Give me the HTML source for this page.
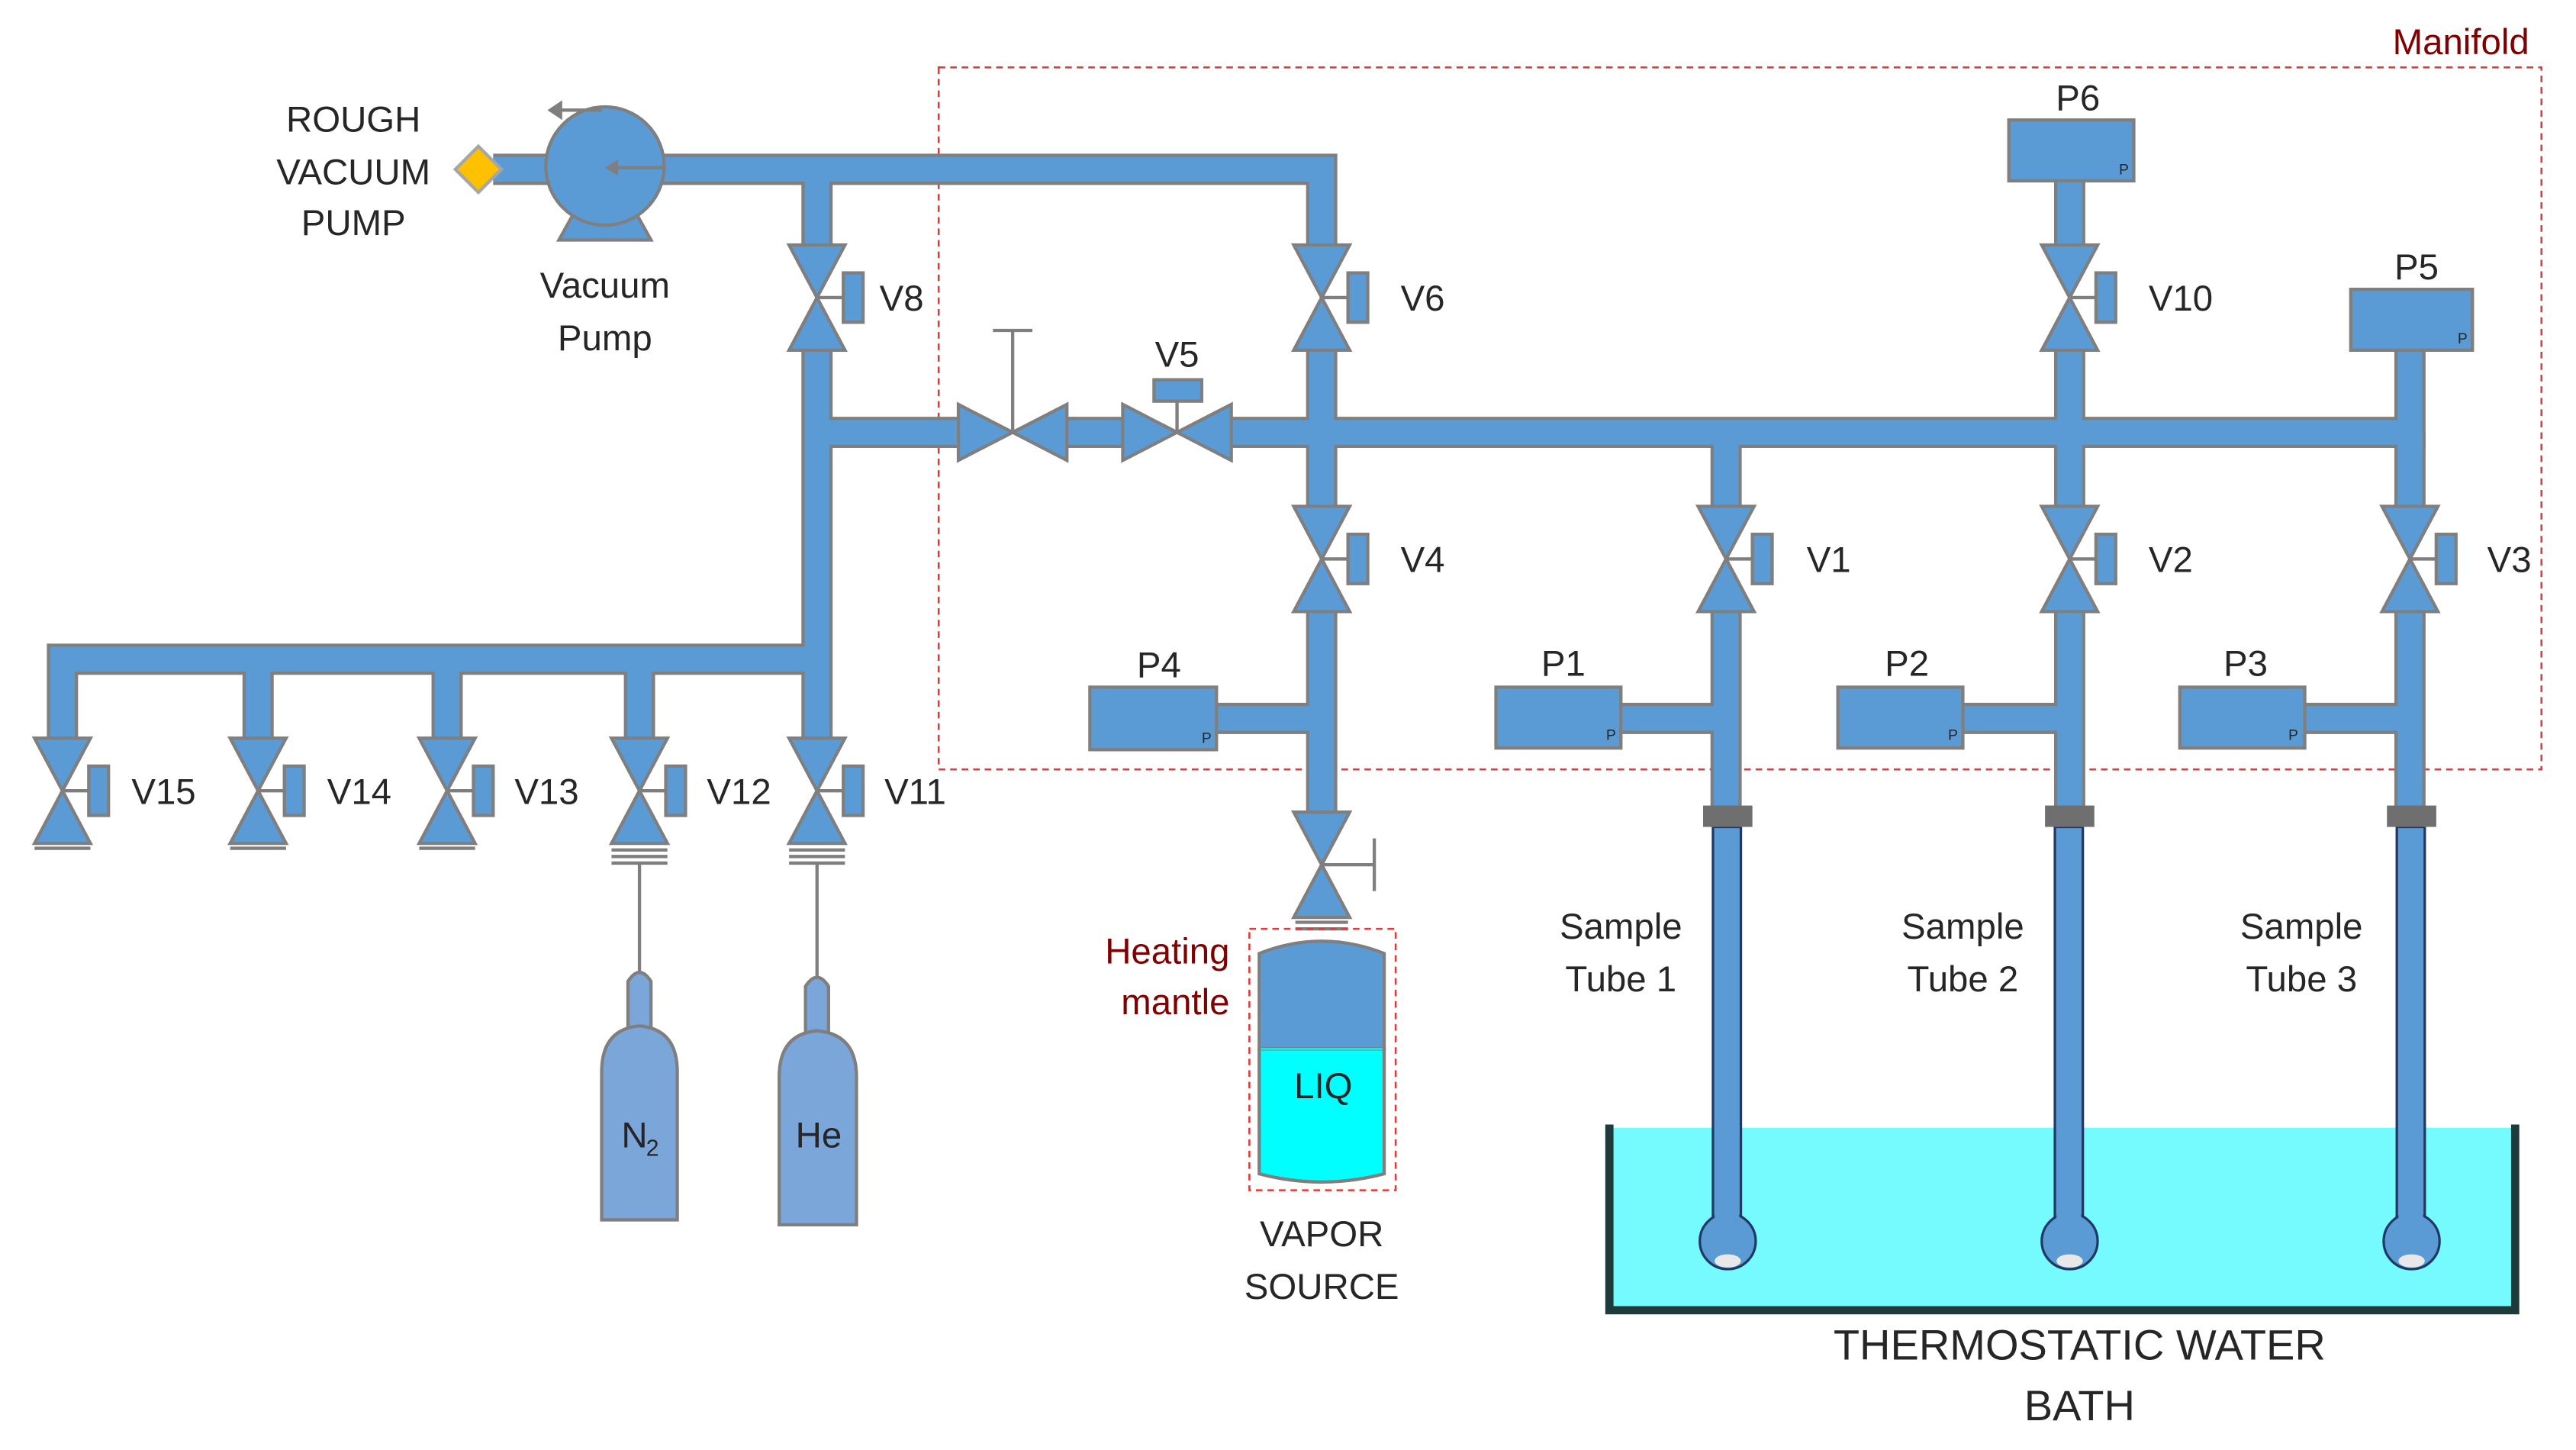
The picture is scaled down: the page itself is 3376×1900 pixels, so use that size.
<!DOCTYPE html>
<html><head><meta charset="utf-8"><style>
html,body{margin:0;padding:0;background:#fff;}
svg{display:block;}
text{font-family:"Liberation Sans",sans-serif;fill:#262626;}
</style></head><body>
<svg width="3376" height="1900" viewBox="0 0 1567 882" preserveAspectRatio="none" xmlns="http://www.w3.org/2000/svg">
<defs>
<g id="vv"><polygon points="-17,-32 17,-32 0,0" fill="#5b9bd5" stroke="#7f7f7f" stroke-width="2"/><polygon points="-17,32 17,32 0,0" fill="#5b9bd5" stroke="#7f7f7f" stroke-width="2"/></g>
<g id="act"><line x1="0" y1="0" x2="16" y2="0" stroke="#7f7f7f" stroke-width="2"/><rect x="16" y="-15" width="12" height="30" fill="#5b9bd5" stroke="#7f7f7f" stroke-width="2"/></g>
<g id="hv"><polygon points="-33,-17 -33,17 0,0" fill="#5b9bd5" stroke="#7f7f7f" stroke-width="2"/><polygon points="33,-17 33,17 0,0" fill="#5b9bd5" stroke="#7f7f7f" stroke-width="2"/></g>
</defs>

<rect x="571" y="41" width="975" height="427" fill="none" stroke="#e03a3a" stroke-width="1.2" stroke-dasharray="4,3"/>
<text x="1497" y="33" font-size="22" text-anchor="middle" style="fill:#7f0000">Manifold</text>

<rect x="977" y="686" width="553" height="111" fill="#75fbfd"/>
<path d="M979 684 V797 H1530 V684" fill="none" stroke="#1f3a3a" stroke-width="5"/>

<g fill="none" stroke="#7f7f7f" stroke-width="19" stroke-linejoin="miter">
<path d="M300 103 H804 V150"/>
<path d="M497 103 V150 M497 212 V450"/>
<path d="M38 450 V401 H497"/>
<path d="M157 401 V450 M272 401 V450 M389 401 V450"/>
<path d="M497 263 H585 M647 263 H686 M746 263 H1466 V210"/>
<path d="M804 212 V308 M804 372 V495 M804 437 H738"/>
<path d="M1050 263 V308 M1050 372 V492 M1050 437 H984"/>
<path d="M1259 108 V150 M1259 212 V308 M1259 372 V492 M1259 437 H1192"/>
<path d="M1466 263 V308 M1466 372 V492 M1466 437 H1400"/>
</g>
<g fill="none" stroke="#5b9bd5" stroke-width="15" stroke-linejoin="miter">
<path d="M300 103 H804 V152"/>
<path d="M497 103 V152 M497 210 V452"/>
<path d="M38 452 V401 H497"/>
<path d="M157 401 V452 M272 401 V452 M389 401 V452"/>
<path d="M497 263 H587 M645 263 H688 M744 263 H1466 V210"/>
<path d="M804 210 V310 M804 370 V497 M804 437 H738"/>
<path d="M1050 263 V310 M1050 370 V492 M1050 437 H984"/>
<path d="M1259 108 V152 M1259 210 V310 M1259 370 V492 M1259 437 H1192"/>
<path d="M1466 263 V310 M1466 370 V492 M1466 437 H1400"/>
</g>

<polygon points="340,146 396,146 386,128 350,128" fill="#5b9bd5" stroke="#7f7f7f" stroke-width="2"/>
<circle cx="368" cy="101" r="36" fill="#5b9bd5" stroke="#7f7f7f" stroke-width="2"/>
<line x1="405" y1="102" x2="372" y2="102" stroke="#7f7f7f" stroke-width="2"/>
<polygon points="368,102 376,97 376,107" fill="#7f7f7f"/>
<path d="M366 67 H340" stroke="#7f7f7f" stroke-width="2" fill="none"/>
<polygon points="333,67 342,61 342,73" fill="#7f7f7f"/>
<polygon points="291,89 305,103 291,117 277,103" fill="#ffc000" stroke="#a6a6a6" stroke-width="2"/>
<text x="215" y="80" font-size="22" text-anchor="middle">ROUGH</text>
<text x="215" y="112" font-size="22" text-anchor="middle">VACUUM</text>
<text x="215" y="143" font-size="22" text-anchor="middle">PUMP</text>
<text x="368" y="181" font-size="22" text-anchor="middle">Vacuum</text>
<text x="368" y="213" font-size="22" text-anchor="middle">Pump</text>

<g font-size="22">
<use href="#vv" x="497" y="181"/><use href="#act" x="497" y="181"/><text x="535" y="189">V8</text>
<use href="#vv" x="804" y="181"/><use href="#act" x="804" y="181"/><text x="852" y="189">V6</text>
<use href="#vv" x="1259" y="181"/><use href="#act" x="1259" y="181"/><text x="1307" y="189">V10</text>
<use href="#vv" x="804" y="340"/><use href="#act" x="804" y="340"/><text x="852" y="348">V4</text>
<use href="#vv" x="1050" y="340"/><use href="#act" x="1050" y="340"/><text x="1099" y="348">V1</text>
<use href="#vv" x="1259" y="340"/><use href="#act" x="1259" y="340"/><text x="1307" y="348">V2</text>
<use href="#vv" x="1466" y="340"/><use href="#act" x="1466" y="340"/><text x="1513" y="348">V3</text>
<use href="#vv" x="38" y="481"/><use href="#act" x="38" y="481"/><text x="80" y="489">V15</text>
<use href="#vv" x="157" y="481"/><use href="#act" x="157" y="481"/><text x="199" y="489">V14</text>
<use href="#vv" x="272" y="481"/><use href="#act" x="272" y="481"/><text x="313" y="489">V13</text>
<use href="#vv" x="389" y="481"/><use href="#act" x="389" y="481"/><text x="430" y="489">V12</text>
<use href="#vv" x="497" y="481"/><use href="#act" x="497" y="481"/><text x="538" y="489">V11</text>
</g>
<g stroke="#7f7f7f" stroke-width="2">
<line x1="21" y1="516" x2="55" y2="516"/><line x1="140" y1="516" x2="174" y2="516"/><line x1="255" y1="516" x2="289" y2="516"/>
<line x1="372" y1="517" x2="406" y2="517"/><line x1="372" y1="521" x2="406" y2="521"/><line x1="372" y1="525" x2="406" y2="525"/>
<line x1="480" y1="517" x2="514" y2="517"/><line x1="480" y1="521" x2="514" y2="521"/><line x1="480" y1="525" x2="514" y2="525"/>
<line x1="389" y1="525" x2="389" y2="592"/><line x1="497" y1="525" x2="497" y2="594"/>
</g>
<g fill="#7aa6da" stroke="#7f7f7f" stroke-width="2">
<path d="M382 625 V597 Q389 586 396 597 V625 Z"/>
<path d="M366 742 V652 Q366 626 389 624 Q412 626 412 652 V742 Z"/>
<path d="M490 628 V600 Q497 589 504 600 V628 Z"/>
<path d="M474 745 V655 Q474 629 497 627 Q521 629 521 655 V745 Z"/>
</g>
<text x="378" y="698" font-size="22">N</text><text x="393" y="703" font-size="14">2</text>
<text x="498" y="698" font-size="22" text-anchor="middle">He</text>

<use href="#hv" x="616" y="263"/>
<line x1="616" y1="263" x2="616" y2="201" stroke="#7f7f7f" stroke-width="2"/>
<line x1="604" y1="201" x2="628" y2="201" stroke="#7f7f7f" stroke-width="2"/>
<use href="#hv" x="716" y="263"/>
<line x1="716" y1="263" x2="716" y2="244" stroke="#7f7f7f" stroke-width="2"/>
<rect x="702" y="231" width="29" height="13" fill="#5b9bd5" stroke="#7f7f7f" stroke-width="2"/>
<text x="716" y="223" font-size="22" text-anchor="middle">V5</text>

<use href="#vv" x="804" y="526"/>
<line x1="804" y1="526" x2="836" y2="526" stroke="#7f7f7f" stroke-width="2"/>
<line x1="836" y1="510" x2="836" y2="542" stroke="#7f7f7f" stroke-width="2"/>
<line x1="788" y1="561" x2="820" y2="561" stroke="#7f7f7f" stroke-width="2"/>
<line x1="788" y1="565" x2="820" y2="565" stroke="#7f7f7f" stroke-width="2"/>
<path d="M766 580 Q804 565 842 580 V638 H766 Z" fill="#5b9bd5" stroke="#7f7f7f" stroke-width="2"/>
<path d="M766 638 H842 V714 Q804 724 766 714 Z" fill="#00ffff" stroke="#7f7f7f" stroke-width="2"/>
<line x1="767" y1="638" x2="841" y2="638" stroke="#00ffff" stroke-width="1"/>
<rect x="760" y="565" width="89" height="159" fill="none" stroke="#e03a3a" stroke-width="1.2" stroke-dasharray="4,3"/>
<text x="805" y="668" font-size="22" text-anchor="middle">LIQ</text>
<text x="748" y="586" font-size="22" text-anchor="end" style="fill:#7f0000">Heating</text>
<text x="748" y="617" font-size="22" text-anchor="end" style="fill:#7f0000">mantle</text>
<text x="804" y="758" font-size="22" text-anchor="middle">VAPOR</text>
<text x="804" y="790" font-size="22" text-anchor="middle">SOURCE</text>

<g fill="#5b9bd5" stroke="#7f7f7f" stroke-width="2">
<rect x="663" y="418" width="77" height="38"/>
<rect x="910" y="418" width="76" height="37"/>
<rect x="1118" y="418" width="76" height="37"/>
<rect x="1326" y="418" width="76" height="37"/>
<rect x="1222" y="73" width="76" height="37"/>
<rect x="1430" y="176" width="74" height="37"/>
</g>
<g font-size="9">
<text x="731" y="452">P</text><text x="977" y="450">P</text><text x="1185" y="450">P</text><text x="1392" y="450">P</text><text x="1289" y="106">P</text><text x="1495" y="209">P</text>
</g>
<g font-size="22" text-anchor="middle">
<text x="705" y="412">P4</text><text x="951" y="411">P1</text><text x="1160" y="411">P2</text><text x="1366" y="411">P3</text><text x="1264" y="67">P6</text><text x="1470" y="170">P5</text>
</g>

<g>
<rect x="1042" y="503" width="17" height="240" fill="#5b9bd5" stroke="#1f3864" stroke-width="1.5"/>
<circle cx="1051" cy="755" r="17" fill="#5b9bd5" stroke="#1f3864" stroke-width="1.5"/>
<rect x="1043" y="735" width="15" height="10" fill="#5b9bd5"/>
<ellipse cx="1051" cy="767" rx="8" ry="4" fill="#e8e8e8"/>
<rect x="1036" y="490" width="30" height="13" fill="#6f6f6f"/>
<rect x="1250" y="503" width="17" height="240" fill="#5b9bd5" stroke="#1f3864" stroke-width="1.5"/>
<circle cx="1259" cy="755" r="17" fill="#5b9bd5" stroke="#1f3864" stroke-width="1.5"/>
<rect x="1251" y="735" width="15" height="10" fill="#5b9bd5"/>
<ellipse cx="1259" cy="767" rx="8" ry="4" fill="#e8e8e8"/>
<rect x="1244" y="490" width="30" height="13" fill="#6f6f6f"/>
<rect x="1458" y="503" width="17" height="240" fill="#5b9bd5" stroke="#1f3864" stroke-width="1.5"/>
<circle cx="1467" cy="755" r="17" fill="#5b9bd5" stroke="#1f3864" stroke-width="1.5"/>
<rect x="1459" y="735" width="15" height="10" fill="#5b9bd5"/>
<ellipse cx="1467" cy="767" rx="8" ry="4" fill="#e8e8e8"/>
<rect x="1452" y="490" width="30" height="13" fill="#6f6f6f"/>
</g>
<g font-size="22" text-anchor="middle">
<text x="986" y="571">Sample</text><text x="986" y="603">Tube 1</text>
<text x="1194" y="571">Sample</text><text x="1194" y="603">Tube 2</text>
<text x="1400" y="571">Sample</text><text x="1400" y="603">Tube 3</text>
</g>
<text x="1265" y="827" font-size="26" text-anchor="middle">THERMOSTATIC WATER</text>
<text x="1265" y="864" font-size="26" text-anchor="middle">BATH</text>
</svg>
</body></html>
